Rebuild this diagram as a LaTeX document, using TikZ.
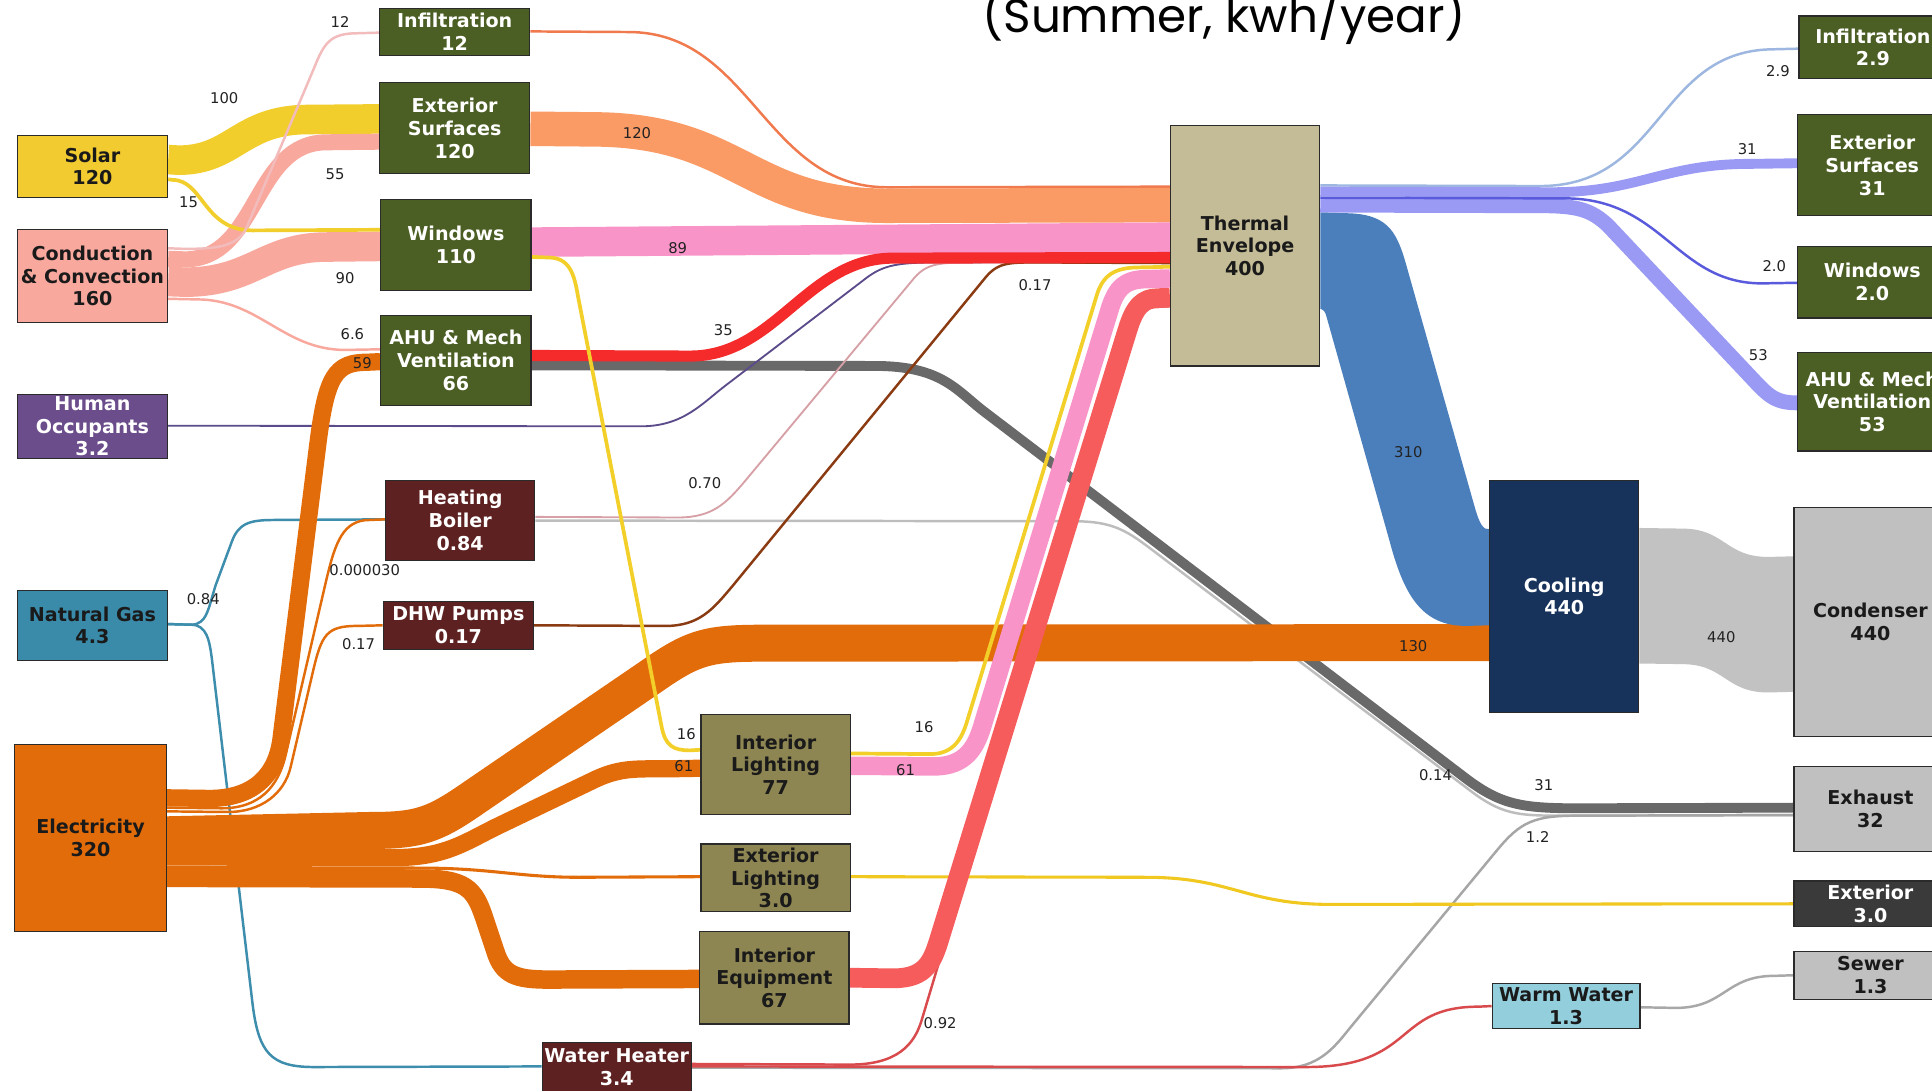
\documentclass[tikz,border=0pt]{standalone}
\usepackage{fontspec}
\newfontfamily\boxfont{DejaVu Sans}
\newfontfamily\lblfont{DejaVu Sans}
\newfontfamily\titlefont{Poppins}
\usetikzlibrary{calc}
\pgfdeclarelayer{back}\pgfdeclarelayer{bg}\pgfsetlayers{back,bg,main}
\definecolor{cSolar}{HTML}{F2CB30}
\definecolor{cCond}{HTML}{F9A89E}
\definecolor{cHuman}{HTML}{6B4D8C}
\definecolor{cGas}{HTML}{3A8BAA}
\definecolor{cElec}{HTML}{E36C0A}
\definecolor{cGreen}{HTML}{4B5E24}
\definecolor{cMaroon}{HTML}{5E2121}
\definecolor{cKhaki}{HTML}{8D8552}
\definecolor{cTE}{HTML}{C4BC96}
\definecolor{cCool}{HTML}{17335B}
\definecolor{cWarm}{HTML}{93CEDD}
\definecolor{cGrayBox}{HTML}{C0C0C0}
\definecolor{cExt}{HTML}{3A3A3A}
\definecolor{boxline}{HTML}{2A2A2A}
\definecolor{txt}{HTML}{1A1A1A}
\definecolor{lblc}{HTML}{222222}
\definecolor{fSolar}{HTML}{F2CE2C}
\definecolor{fCond}{HTML}{F9A89E}
\definecolor{fCondThin}{HTML}{F3BCBC}
\definecolor{fExtS}{HTML}{FA9A64}
\definecolor{fInfil}{HTML}{F07A4E}
\definecolor{fWin}{HTML}{F994C9}
\definecolor{fRed}{HTML}{F52A2B}
\definecolor{fDGray}{HTML}{696969}
\definecolor{fPurple}{HTML}{5B4B8B}
\definecolor{fBoilPink}{HTML}{D6A0A6}
\definecolor{fLGray}{HTML}{BDBDBD}
\definecolor{fBrown}{HTML}{8B3B12}
\definecolor{fTeal}{HTML}{3D8DAD}
\definecolor{fElec}{HTML}{E36C0A}
\definecolor{fYellow}{HTML}{F3CF2A}
\definecolor{fCoral}{HTML}{F65C5C}
\definecolor{fWHred}{HTML}{D94A4C}
\definecolor{fWHgray}{HTML}{A6A6A6}
\definecolor{fExtL}{HTML}{F0C820}
\definecolor{fLav}{HTML}{9A9AF4}
\definecolor{fLBlue}{HTML}{9DB7E0}
\definecolor{fWinR}{HTML}{5A5ADC}
\definecolor{fBlue}{HTML}{4B7FBC}
\definecolor{fCondG}{HTML}{C2C2C2}
\definecolor{fSewer}{HTML}{A8A8A8}
\begin{document}
\begin{tikzpicture}[x=1pt,y=-1pt,
  box/.style={draw=boxline,line width=1pt,inner sep=0pt,align=center,font=\boxfont\bfseries\fontsize{15.5}{18.5}\selectfont},
  gbox/.style={box,fill=cGreen,text=white},
  mbox/.style={box,fill=cMaroon,text=white},
  kbox/.style={box,fill=cKhaki,text=txt},
  ybox/.style={box,fill=cGrayBox,text=txt},
  sk/.style={line cap=butt,line join=round},
  lbl/.style={font=\lblfont\fontsize{12}{12}\selectfont,text=lblc,inner sep=0pt}]
\begin{pgfonlayer}{back}
\fill[white] (0,0) rectangle (1568,885);
\end{pgfonlayer}
\useasboundingbox (0,0) rectangle (1568,885);

% ---------- title
\node[anchor=base west,inner sep=0pt,font=\titlefont\fontsize{38}{38}\selectfont] (title) at (797,26) {(Summer, kwh/year)};

% ---------- nodes
\node[box,fill=cSolar,text=txt,minimum width=122pt,minimum height=50pt] (solar) at (75,135) {Solar\\120};
\node[box,fill=cCond,text=txt,minimum width=122pt,minimum height=76pt] (cond) at (75,224) {Conduction\\\& Convection\\160};
\node[box,fill=cHuman,text=white,minimum width=122pt,minimum height=52pt] (human) at (75,346) {Human\\Occupants\\3.2};
\node[box,fill=cGas,text=txt,minimum width=122pt,minimum height=57pt] (natgas) at (75,507.5) {Natural Gas\\4.3};
\node[box,fill=cElec,text=txt,minimum width=123pt,minimum height=152pt] (elec) at (73.5,680) {Electricity\\320};

\node[gbox,minimum width=122pt,minimum height=38pt] (infil) at (369,26) {Infiltration\\12};
\node[gbox,minimum width=122pt,minimum height=74pt] (extsurf) at (369,104) {Exterior\\Surfaces\\120};
\node[gbox,minimum width=122pt,minimum height=74pt] (windows) at (370,199) {Windows\\110};
\node[gbox,minimum width=122pt,minimum height=73pt] (ahu) at (370,292.5) {AHU \& Mech\\Ventilation\\66};
\node[mbox,minimum width=121pt,minimum height=65pt] (boiler) at (373.5,422.5) {Heating\\Boiler\\0.84};
\node[mbox,minimum width=122pt,minimum height=39pt] (dhw) at (372,507.5) {DHW Pumps\\0.17};
\node[mbox,minimum width=121pt,minimum height=40pt] (wheater) at (500.5,866) {Water Heater\\3.4};

\node[kbox,minimum width=121pt,minimum height=81pt] (intlight) at (629.5,620.5) {Interior\\Lighting\\77};
\node[kbox,minimum width=121pt,minimum height=55pt] (extlight) at (629.5,712.5) {Exterior\\Lighting\\3.0};
\node[kbox,minimum width=121pt,minimum height=75pt] (intequip) at (628.5,793.5) {Interior\\Equipment\\67};

\node[box,fill=cTE,text=txt,minimum width=121pt,minimum height=195pt] (te) at (1010.5,199.5) {Thermal\\Envelope\\400};
\node[box,fill=cCool,text=white,minimum width=121pt,minimum height=188pt] (cooling) at (1269.5,484) {Cooling\\440};
\node[box,fill=cWarm,text=txt,minimum width=120pt,minimum height=37pt] (warm) at (1271,816.5) {Warm Water\\1.3};

\node[gbox,minimum width=120pt,minimum height=51pt] (rinfil) at (1520,38.5) {Infiltration\\2.9};
\node[gbox,minimum width=121pt,minimum height=82pt] (rextsurf) at (1519.5,134) {Exterior\\Surfaces\\31};
\node[gbox,minimum width=121pt,minimum height=58pt] (rwindows) at (1519.5,229) {Windows\\2.0};
\node[gbox,minimum width=121pt,minimum height=80pt] (rahu) at (1519.5,326) {AHU \& Mech\\Ventilation\\53};
\node[ybox,minimum width=124pt,minimum height=186pt] (condenser) at (1518,505) {Condenser\\440};
\node[ybox,minimum width=124pt,minimum height=69pt] (exhaust) at (1518,656.5) {Exhaust\\32};
\node[box,fill=cExt,text=white,minimum width=124pt,minimum height=37pt] (exterior) at (1518,733.5) {Exterior\\3.0};
\node[ybox,minimum width=124pt,minimum height=39pt] (sewer) at (1518,791.5) {Sewer\\1.3};

% ---------- flows
\begin{pgfonlayer}{bg}
% natural gas
\draw[sk,fTeal,line width=2pt] ($(natgas.north east)+(0,28)$) -- (155,507) .. controls (168,507) and (169,494) .. (175,475) -- (188,440) .. controls (194,423) and (205,422) .. (225,422) -- ($(boiler.north west)+(0,32)$);
\draw[sk,fTeal,line width=2pt] ($(natgas.north east)+(0,28)$) -- (155,507) .. controls (168,507) and (170,520) .. (172,535) -- (205,815) .. controls (210,855) and (220,866) .. (255,866) -- ($(wheater.north west)+(0,20)$);
% exhaust greys
\draw[sk,fDGray,line width=8pt] ($(ahu.north east)+(0,41)$) -- (710,297) .. controls (765,297) and (776,317) .. (800,335) -- (1190,632) .. controls (1218,653) and (1235,656) .. (1280,656) -- ($(exhaust.north west)+(0,34)$);
\draw[sk,fLGray,line width=2pt] ($(boiler.north east)+(0,33)$) -- (870,423) .. controls (905,423) and (915,431) .. (940,450) -- (1195,643) .. controls (1222,663) and (1235,662) .. (1280,662) -- ($(exhaust.north west)+(0,40)$);
\draw[sk,fWHgray,line width=2pt] ($(wheater.north east)+(0,21)$) -- (1040,867) .. controls (1070,867) and (1083,850) .. (1095,835) -- (1215,690) .. controls (1234,667) and (1245,662) .. (1280,662) -- ($(exhaust.north west)+(0,40)$);
% thin lines into thermal envelope
\draw[sk,fPurple,line width=1.5pt] ($(human.north east)+(0,26)$) -- (520,346) .. controls (555,346) and (570,327) .. (590,312) -- (700,228) .. controls (715,216) and (725,213) .. (760,213) -- ($(te.north west)+(0,111)$);
\draw[sk,fBoilPink,line width=1.5pt] ($(boiler.north east)+(0,30)$) -- (550,420) .. controls (578,420) and (589,409) .. (605,390) -- (740,228) .. controls (751,214) and (760,213) .. (790,213) -- ($(te.north west)+(0,111)$);
\draw[sk,fBrown,line width=2pt] ($(dhw.north east)+(0,20)$) -- (540,508) .. controls (568,508) and (579,494) .. (595,475) -- (800,225) .. controls (811,212) and (820,213) .. (850,213) -- ($(te.north west)+(0,112)$);
% electricity
\draw[sk,fElec,line width=2pt] ($(elec.north east)+(0,52)$) -- (180,656) .. controls (210,656) and (226,639) .. (232,612) -- (265,470) .. controls (272,441) and (278,422) .. (300,422) -- ($(boiler.north west)+(0,32)$);
\draw[sk,fElec,line width=2pt] ($(elec.north east)+(0,55)$) -- (185,659) .. controls (212,659) and (231,644) .. (236,622) -- (254,545) .. controls (261,515) and (265,508) .. (290,508) -- ($(dhw.north west)+(0,20)$);
\draw[sk,fElec,line width=14pt] ($(elec.north east)+(0,44)$) -- (170,648) .. controls (205,648) and (224,630) .. (228,600) -- (258,360) .. controls (265,305) and (272,294) .. (298,294) -- ($(ahu.north west)+(0,38)$);
\draw[sk,fElec,line width=30pt] ($(elec.north east)+(0,74)$) -- (300,674) .. controls (340,674) and (352,670) .. (385,647) -- (530,548) .. controls (563,525) and (575,522) .. (620,522) -- ($(cooling.north west)+(0,132)$);
\draw[sk,fElec,line width=14pt] ($(elec.north east)+(0,92)$) -- (320,696) .. controls (362,696) and (378,683) .. (405,670) -- (480,634) .. controls (502,623) and (515,624) .. (540,624) -- ($(intlight.north west)+(0,44)$);
\draw[sk,fElec,line width=2.5pt] ($(elec.north east)+(0,100.5)$) -- (340,704.5) .. controls (400,704.5) and (420,712) .. (470,712) -- ($(extlight.north west)+(0,27)$);
\draw[sk,fElec,line width=15pt] ($(elec.north east)+(0,109)$) -- (340,713) .. controls (378,713) and (385,721) .. (393,745) -- (402,772) .. controls (408,791) and (418,795) .. (445,795) -- ($(intequip.north west)+(0,39)$);
% conduction & solar
\draw[sk,fSolar,line width=24pt] ($(solar.north east)+(0,20)$) -- (145,130) .. controls (190,130) and (195,97) .. (250,97) -- ($(extsurf.north west)+(0,30)$);
\draw[sk,fCond,line width=13pt] ($(cond.north east)+(0,24.5)$) -- (150,210.5) .. controls (210,210.5) and (205,115.5) .. (265,115.5) -- ($(extsurf.north west)+(0,48.5)$);
\draw[sk,fCond,line width=24pt] ($(cond.north east)+(0,43)$) -- (150,229) .. controls (205,229) and (215,200.5) .. (265,200.5) -- ($(windows.north west)+(0,38.5)$);
\draw[sk,fSolar,line width=3pt] ($(solar.north east)+(0,36)$) -- (140,146) .. controls (165,146) and (165,187) .. (205,187) -- ($(windows.north west)+(0,25)$);
\draw[sk,fCondThin,line width=2pt] ($(cond.north east)+(0,16)$) -- (150,202) .. controls (176,202) and (193,200) .. (200,185) -- (255,55) .. controls (263,35) and (268,27) .. (290,27) -- ($(infil.north west)+(0,20)$);
\draw[sk,fCond,line width=2pt] ($(cond.north east)+(0,57)$) -- (160,243) .. controls (210,243) and (230,284) .. (280,284) -- ($(ahu.north west)+(0,28)$);
% into thermal envelope
\draw[sk,fInfil,line width=2pt] ($(infil.north east)+(0,19)$) -- (510,26) .. controls (610,26) and (620,152) .. (720,152) -- ($(te.north west)+(0,50)$);
\draw[sk,fExtS,line width=28pt] ($(extsurf.north east)+(0,38)$) -- (480,105) .. controls (600,105) and (605,167) .. (720,167) -- ($(te.north west)+(0,65)$);
\draw[sk,fWin,line width=24pt] ($(windows.north east)+(0,35)$) -- ($(te.north west)+(0,91)$);
\draw[sk,fRed,line width=9pt] ($(ahu.north east)+(0,33)$) -- (560,289) .. controls (630,289) and (655,209.5) .. (725,209.5) -- ($(te.north west)+(0,107.5)$);
% water heater, exterior lighting
\draw[sk,fExtL,line width=2.5pt] ($(extlight.north east)+(0,27)$) -- (930,712) .. controls (1000,712) and (1010,734) .. (1080,734) -- ($(exterior.north west)+(0,19)$);
\draw[sk,fWHred,line width=2pt] ($(wheater.north east)+(0,20)$) -- (1060,866) .. controls (1150,866) and (1130,817) .. (1200,817) -- ($(warm.north west)+(0,19)$);
\draw[sk,fWHred,line width=2pt] ($(wheater.north east)+(0,18)$) -- (690,864) .. controls (728,864) and (742,848) .. (748,828) -- (915,270) .. controls (921,252) and (928,249) .. (940,249) -- ($(te.north west)+(0,147)$);
% lighting and equipment into envelope
\draw[sk,fCoral,line width=16pt] ($(intequip.north east)+(0,38)$) -- (725,794) .. controls (752,794) and (757,780) .. (763,760) -- (915,268) .. controls (921,248) and (928,242) .. (940,242) -- ($(te.north west)+(0,140)$);
\draw[sk,fWin,line width=15pt] ($(intlight.north east)+(0,42)$) -- (758,622) .. controls (784,622) and (792,606) .. (797,590) -- (900,253) .. controls (906,232) and (914,226.5) .. (932,226.5) -- ($(te.north west)+(0,124.5)$);
\draw[sk,fYellow,line width=3pt] ($(intlight.north east)+(0,32)$) -- (755,612) .. controls (775,612) and (781,598) .. (785,585) -- (890,240) .. controls (895,223) and (905,217) .. (925,217) -- ($(te.north west)+(0,115)$);
\draw[sk,fYellow,line width=3pt] ($(windows.north east)+(0,47)$) -- (445,209) .. controls (462,209) and (466,222) .. (469,240) -- (537,590) .. controls (540,605) and (546,609) .. (560,609) -- ($(intlight.north west)+(0,29)$);
% right side
\draw[sk,fLBlue,line width=2pt] ($(te.north east)+(0,49)$) -- (1250,151) .. controls (1350,151) and (1345,40) .. (1440,40) -- ($(rinfil.north west)+(0,27)$);
\draw[sk,fLav,line width=8pt] ($(te.north east)+(0,54)$) -- (1260,156) .. controls (1330,156) and (1350,133) .. (1420,133) -- ($(rextsurf.north west)+(0,40)$);
\draw[sk,fLav,line width=12pt] ($(te.north east)+(0,65)$) -- (1250,167) .. controls (1280,167) and (1291,170) .. (1305,183) -- (1420,305) .. controls (1435,321) and (1440,327) .. (1459,327) -- ($(rahu.north west)+(0,41)$);
\draw[sk,fWinR,line width=2pt] ($(te.north east)+(0,59)$) -- (1270,161) .. controls (1350,161) and (1360,230) .. (1430,230) -- ($(rwindows.north west)+(0,30)$);
\fill[fBlue] ($(te.north east)+(0,71)$) -- (1090,173) .. controls (1125,173) and (1133,186) .. (1141,214) -- (1197,412) .. controls (1201,426) and (1204,430) .. ($(cooling.north west)+(0,40)$) -- ($(cooling.north west)+(0,118)$) -- (1190,508) .. controls (1155,508) and (1140,485) .. (1128,440) -- (1076,255) .. controls (1075,252) and (1073,251) .. ($(te.north east)+(0,149)$) -- cycle;
\fill[fCondG] ($(cooling.north east)+(0,39)$) -- (1365,429) .. controls (1400,429) and (1400,452) .. (1435,452) -- ($(condenser.north west)+(0,40)$) -- ($(condenser.north west)+(0,150)$) -- (1435,562) .. controls (1400,562) and (1400,539) .. (1365,539) -- ($(cooling.north east)+(0,149)$) -- cycle;
\draw[sk,fSewer,line width=2pt] ($(warm.north east)+(0,20)$) -- (1360,818) .. controls (1400,818) and (1400,792) .. (1440,792) -- ($(sewer.north west)+(0,20)$);
\end{pgfonlayer}

% ---------- flow labels
\node[lbl] (lA) at (276,18) {12};
\node[lbl] (lB) at (182,80) {100};
\node[lbl] (lC) at (272,141) {55};
\node[lbl] (lD) at (153,164) {15};
\node[lbl] (lE) at (280,226) {90};
\node[lbl] (lF) at (286,271) {6.6};
\node[lbl] (lG) at (294,295) {59};
\node[lbl] (lH) at (517,108) {120};
\node[lbl] (lI) at (550,201) {89};
\node[lbl] (lJ) at (587,268) {35};
\node[lbl] (lK) at (840,231) {0.17};
\node[lbl] (lL) at (572,392) {0.70};
\node[lbl] (lM) at (165,486) {0.84};
\node[lbl] (lN) at (296,463) {0.000030};
\node[lbl] (lO) at (291,523) {0.17};
\node[lbl] (lP) at (557,596) {16};
\node[lbl] (lQ) at (555,622) {61};
\node[lbl] (lR) at (750,590) {16};
\node[lbl] (lS) at (735,625) {61};
\node[lbl] (lT) at (763,830) {0.92};
\node[lbl] (lU) at (1147,524) {130};
\node[lbl] (lV) at (1143,367) {310};
\node[lbl] (lW) at (1397,517) {440};
\node[lbl] (lX) at (1165,629) {0.14};
\node[lbl] (lY) at (1253,637) {31};
\node[lbl] (lZ) at (1248,679) {1.2};
\node[lbl] (la) at (1443,58) {2.9};
\node[lbl] (lb) at (1418,121) {31};
\node[lbl] (lc) at (1440,216) {2.0};
\node[lbl] (ld) at (1427,288) {53};
\end{tikzpicture}
\end{document}
